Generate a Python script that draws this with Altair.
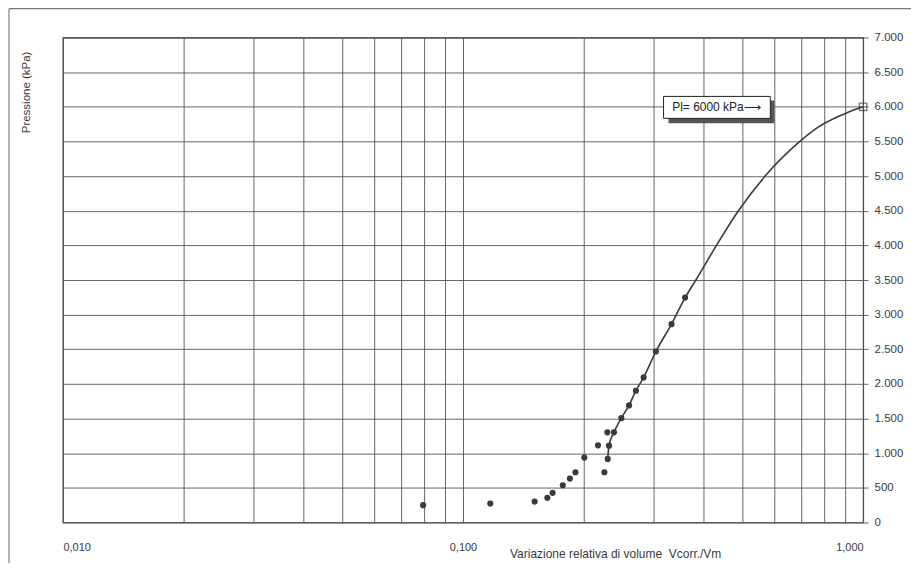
import altair as alt
import pandas as pd

# measured points (relative volume change, pressure kPa)
pts_x = [0.0795, 0.117, 0.151, 0.1625, 0.1675, 0.1776, 0.185, 0.191, 0.201,
         0.2175, 0.2256, 0.230, 0.2317, 0.2295, 0.2384, 0.2488, 0.260, 0.2705,
         0.2828, 0.3034, 0.332, 0.359]
pts_y = [250, 274, 302, 356, 428, 537, 634, 725, 937,
         1114, 725, 918, 1109, 1301, 1301, 1508, 1690, 1902,
         2094, 2468, 2863, 3246]

# fitted curve
curve_x = [0.230, 0.2317, 0.2384, 0.2488, 0.260, 0.2705, 0.2828, 0.3034, 0.332,
           0.359, 0.382, 0.430, 0.488, 0.569, 0.695, 0.772, 0.918, 1.0]
curve_y = [918, 1109, 1301, 1508, 1690, 1902, 2094, 2468, 2863,
           3246, 3500, 4000, 4500, 5000, 5500, 5706, 5922, 6000]

# limit pressure marker
pl_x = [1.0]
pl_y = [6000]
pl_label = "Pl= 6000 kPa\u27f6"

x_grid = [0.01, 0.02, 0.03, 0.04, 0.05, 0.06, 0.07, 0.08, 0.09,
          0.1, 0.2, 0.3, 0.4, 0.5, 0.6, 0.7, 0.8, 0.9, 1.0]
y_ticks = list(range(0, 7001, 500))

FONT = "Liberation Sans"
DARK = "#3a3a3a"

pts = pd.DataFrame({"x": pts_x, "y": pts_y})
curve = pd.DataFrame({"x": curve_x, "y": curve_y})
pl = pd.DataFrame({"x": pl_x, "y": pl_y})

xscale = alt.Scale(type="log", domain=[0.01, 1.0], nice=False)
yscale = alt.Scale(domain=[0, 7000], nice=False)

xaxis = alt.Axis(
    values=x_grid, grid=True, ticks=False, domain=False,
    labelExpr="(datum.value==0.01||datum.value==0.1||datum.value==1) ? replace(format(datum.value,'.3f'),'.',',') : ''",
    labelOverlap=False, labelPadding=19, labelFont=FONT, labelFontSize=11,
    labelColor=DARK, title=None,
)
yaxis = alt.Axis(
    orient="right", values=y_ticks, grid=True, ticks=True, tickSize=5,
    tickColor="#666", domain=False, labelOverlap=False,
    labelExpr="replace(format(datum.value, ','), ',', '.')",
    labelPadding=6, labelFont=FONT, labelFontSize=11.5, labelColor=DARK,
    title=None,
)

X = alt.X("x:Q", scale=xscale, axis=xaxis)
Y = alt.Y("y:Q", scale=yscale, axis=yaxis)

line = alt.Chart(curve).mark_line(color=DARK, strokeWidth=1.6, interpolate="monotone").encode(x=X, y=Y)
points = alt.Chart(pts).mark_circle(color=DARK, size=38, opacity=1).encode(x=X, y=Y)
square = alt.Chart(pl).mark_square(filled=False, color=DARK, size=55, strokeWidth=1.3).encode(x=X, y=Y)

# annotation box with shadow
shadow = alt.Chart(pl).mark_rect(color="#555").encode(
    x=alt.value(607), x2=alt.value(713), y=alt.value(63), y2=alt.value(86))
box = alt.Chart(pl).mark_rect(fill="white", stroke="#222", strokeWidth=1).encode(
    x=alt.value(602), x2=alt.value(709), y=alt.value(59), y2=alt.value(81))
box_text = alt.Chart(pl).mark_text(font=FONT, fontSize=12, color="#222").encode(
    x=alt.value(655), y=alt.value(70), text=alt.value(pl_label))

ytitle = alt.Chart(pl).mark_text(font=FONT, fontSize=11.5, color=DARK, angle=270).encode(
    x=alt.value(-36), y=alt.value(55), text=alt.value("Pressione (kPa)"))
xtitle = alt.Chart(pl).mark_text(font=FONT, fontSize=12, color=DARK).encode(
    x=alt.value(554), y=alt.value(518),
    text=alt.value("Variazione relativa di volume\u00a0\u00a0Vcorr./Vm"))

frame_top = alt.Chart(pl).mark_rule(color="#777", strokeWidth=1.5).encode(
    x=alt.value(-54), x2=alt.value(850), y=alt.value(-29))
frame_left = alt.Chart(pl).mark_rule(color="#999", strokeWidth=1.5).encode(
    x=alt.value(-54), y=alt.value(-29), y2=alt.value(540))

chart = alt.layer(
    frame_top, frame_left, line, points, square, shadow, box, box_text, ytitle, xtitle
).properties(
    width=802, height=486,
    autosize=alt.AutoSizeParams(type="none"),
    padding={"left": 55, "top": 29, "right": 50, "bottom": 40},
    background="white",
).configure_view(
    stroke="#333", strokeWidth=1.2,
).configure_axis(
    gridColor="#555", gridWidth=1, gridOpacity=0.9,
)

chart.save("out.html", embed_options={"renderer": "svg", "actions": False})
